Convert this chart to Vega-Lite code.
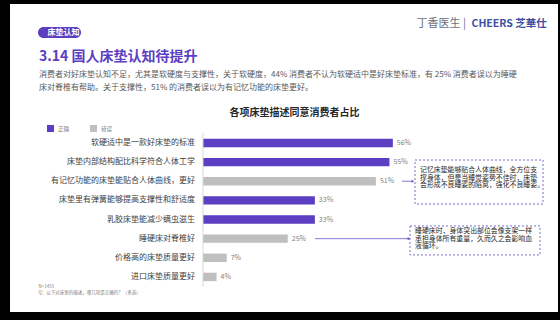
{
  "$schema": "https://vega.github.io/schema/vega-lite/v6.json",
  "width": 560,
  "height": 320,
  "autosize": {"type": "fit", "contains": "padding"},
  "padding": {"left": 10, "right": 2, "top": 4, "bottom": 8},
  "background": "black",
  "config": {
    "font": "Noto Sans CJK SC",
    "view": {"fill": "white", "stroke": null},
    "axis": {"domain": false, "ticks": false, "labels": false, "grid": false, "titlePadding": 0}
  },
  "title": {
    "text": "3.14 国人床垫认知待提升",
    "subtitle": [
      "消费者对好床垫认知不足，尤其是软硬度与支撑性，关于软硬度，44% 消费者不认为软硬适中是好床垫标准，有 25% 消费者误以为睡硬",
      "床对脊椎有帮助。关于支撑性，51% 的消费者误以为有记忆功能的床垫更好。"
    ],
    "anchor": "start",
    "frame": "group",
    "orient": "top",
    "offset": -88,
    "dx": 29,
    "baseline": "top",
    "fontSize": 14,
    "fontWeight": "bold",
    "color": "#5B3EC2",
    "subtitleFontSize": 8,
    "subtitleColor": "#595959",
    "subtitleLineHeight": 13.3,
    "subtitlePadding": 7,
    "subtitleFontWeight": "normal"
  },
  "datasets": {
    "bars": [
      {"category": "软硬适中是一款好床垫的标准", "value": 0.56, "kind": "正确"},
      {"category": "床垫内部结构配比科学符合人体工学", "value": 0.55, "kind": "正确"},
      {"category": "有记忆功能的床垫能贴合人体曲线，更好", "value": 0.51, "kind": "错误"},
      {"category": "床垫里有弹簧能够提高支撑性和舒适度", "value": 0.33, "kind": "正确"},
      {"category": "乳胶床垫能减少螨虫滋生", "value": 0.33, "kind": "正确"},
      {"category": "睡硬床对脊椎好", "value": 0.25, "kind": "错误"},
      {"category": "价格高的床垫质量更好", "value": 0.07, "kind": "错误"},
      {"category": "进口床垫质量更好", "value": 0.04, "kind": "错误"}
    ],
    "notes": [
      {"id": 1, "category": "有记忆功能的床垫能贴合人体曲线，更好", "note": "记忆床垫能够贴合人体曲线，全方位支\n撑身体，但是当睡觉姿势不佳时，床垫\n会形成不良睡姿的陷窝，强化不良睡姿。"},
      {"id": 2, "category": "睡硬床对脊椎好", "note": "睡硬床时，身体突出部位会像支架一样\n承担身体所有重量，久而久之会影响血\n液循环。"}
    ]
  },
  "resolve": {"axis": {"x": "independent", "y": "independent"}},
  "layer": [
    {
      "data": {"name": "bars"},
      "mark": {"type": "bar"},
      "encoding": {
        "y": {
          "field": "category", "type": "nominal",
          "scale": {
            "domain": ["软硬适中是一款好床垫的标准", "床垫内部结构配比科学符合人体工学", "有记忆功能的床垫能贴合人体曲线，更好", "床垫里有弹簧能够提高支撑性和舒适度", "乳胶床垫能减少螨虫滋生", "睡硬床对脊椎好", "价格高的床垫质量更好", "进口床垫质量更好"],
            "range": [129.4, 282.5],
            "paddingInner": 0.56, "paddingOuter": 0.28
          },
          "axis": {"orient": "left", "title": "丁香医生 |", "titleAngle": 0, "titleX": 406, "titleY": 19, "titleAlign": "left", "titleBaseline": "middle", "titleFontSize": 11, "titleFontWeight": "normal", "titleColor": "#6E6E80"}
        },
        "x": {
          "field": "value", "type": "quantitative", "stack": null,
          "scale": {"domain": [-0.5693, 1.0472], "nice": false},
          "axis": {"orient": "top", "title": "各项床垫描述同意消费者占比", "titleX": 284, "titleY": 108, "titleAlign": "center", "titleBaseline": "middle", "titleFontSize": 10, "titleFontWeight": "bold", "titleColor": "#262626"}
        },
        "color": {
          "field": "kind", "type": "nominal",
          "scale": {"domain": ["正确", "错误"], "range": ["#5B3EC2", "#7F7F7F"]},
          "legend": {
            "orient": "none", "legendX": 37, "legendY": 121, "direction": "horizontal", "title": null,
            "symbolType": "square", "symbolSize": 49, "symbolStrokeWidth": 0, "symbolOpacity": 1,
            "labelFontSize": 5.5, "labelColor": "#7F7F7F", "labelOffset": 4, "columnPadding": 20, "padding": 0
          }
        },
        "opacity": {
          "field": "kind", "type": "nominal",
          "scale": {"domain": ["正确", "错误"], "range": [1, 0.5]},
          "legend": null
        }
      }
    },
    {
      "data": {"name": "bars"},
      "mark": {"type": "text", "align": "right", "baseline": "middle", "dx": -8, "fontSize": 8, "color": "#404040"},
      "encoding": {
        "y": {"field": "category", "type": "nominal", "axis": null},
        "x": {"datum": 0, "type": "quantitative", "axis": null},
        "text": {"field": "category"}
      }
    },
    {
      "data": {"name": "bars"},
      "mark": {"type": "text", "align": "left", "baseline": "middle", "dx": 4, "fontSize": 7, "color": "#7F7F7F"},
      "encoding": {
        "y": {"field": "category", "type": "nominal",
          "axis": {"orient": "right", "title": "CHEERS 芝華仕", "titleAngle": 0, "titleX": -87, "titleY": 19, "titleAlign": "left", "titleBaseline": "middle", "titleFontSize": 10.5, "titleFontWeight": "bold", "titleColor": "#3A4FA0"}},
        "x": {"field": "value", "type": "quantitative",
          "axis": {"orient": "bottom", "title": ["N=1455", "Q：以下对床垫的描述，哪几项是正确的？（多选）"], "titleX": 28, "titleY": -28.5, "titleAlign": "left", "titleAnchor": "start", "titleBaseline": "top", "titleFontSize": 4.5, "titleLineHeight": 6, "titleFontWeight": "normal", "titleColor": "#808080"}},
        "text": {"field": "value", "format": ".0%"}
      }
    },
    {
      "data": {"values": [{}]},
      "mark": {"type": "rule", "strokeWidth": 1},
      "encoding": {
        "x": {"datum": 0, "type": "quantitative", "axis": null},
        "y": {"datum": "软硬适中是一款好床垫的标准", "type": "nominal", "bandPosition": -0.69, "axis": null},
        "y2": {"datum": "进口床垫质量更好", "bandPosition": 1.69},
        "stroke": {
          "datum": "床垫认知", "type": "nominal",
          "scale": {"range": ["#D9D9D9"]},
          "legend": {
            "orient": "none", "legendX": 28, "legendY": 23, "title": null,
            "symbolSize": 0, "symbolOpacity": 0, "symbolStrokeWidth": 0, "labelOffset": 0,
            "labelFontSize": 8, "labelFontWeight": "bold", "labelColor": "white",
            "labelExpr": "'\u3000\u3000' + datum.label + '\u3000\u3000'",
            "fillColor": "#5B3EC2", "cornerRadius": 5.5, "padding": 1.5
          }
        }
      }
    },
    {
      "data": {"name": "notes"},
      "transform": [{"filter": "datum.id == 1"}],
      "layer": [
        {
          "mark": {"type": "rect", "fill": "white", "stroke": "#7C6BC9", "strokeDash": [2, 2], "strokeWidth": 1},
          "encoding": {
            "x": {"datum": 0.6254, "type": "quantitative", "axis": null},
            "x2": {"datum": 1.003},
            "y": {"datum": "床垫内部结构配比科学符合人体工学", "type": "nominal", "bandPosition": 0.25, "axis": null},
            "y2": {"datum": "床垫里有弹簧能够提高支撑性和舒适度", "bandPosition": 0.93}
          }
        },
        {
          "mark": {"type": "rule", "color": "#6A55C8", "strokeWidth": 0.8},
          "encoding": {
            "x": {"datum": 0.587, "type": "quantitative", "axis": null},
            "x2": {"datum": 0.619},
            "y": {"field": "category", "type": "nominal", "axis": null}
          }
        },
        {
          "mark": {"type": "point", "shape": "triangle-right", "filled": true, "size": 10, "color": "#6A55C8", "opacity": 1},
          "encoding": {
            "x": {"datum": 0.619, "type": "quantitative", "axis": null},
            "y": {"field": "category", "type": "nominal", "axis": null}
          }
        },
        {
          "mark": {"type": "text", "align": "left", "baseline": "top", "dy": -14, "fontSize": 6.9, "lineHeight": 7.5, "lineBreak": "\n", "color": "#262626"},
          "encoding": {
            "x": {"datum": 0.6401, "type": "quantitative", "axis": null},
            "y": {"field": "category", "type": "nominal", "axis": null},
            "text": {"field": "note"}
          }
        }
      ]
    },
    {
      "data": {"name": "notes"},
      "transform": [{"filter": "datum.id == 2"}],
      "layer": [
        {
          "mark": {"type": "rect", "fill": "white", "stroke": "#7C6BC9", "strokeDash": [2, 2], "strokeWidth": 1},
          "encoding": {
            "x": {"datum": 0.6106, "type": "quantitative", "axis": null},
            "x2": {"datum": 0.9941},
            "y": {"datum": "乳胶床垫能减少螨虫滋生", "type": "nominal", "bandPosition": 1.265, "axis": null},
            "y2": {"datum": "价格高的床垫质量更好", "bandPosition": 0.16}
          }
        },
        {
          "mark": {"type": "rule", "color": "#6A55C8", "strokeWidth": 0.8},
          "encoding": {
            "x": {"datum": 0.3304, "type": "quantitative", "axis": null},
            "x2": {"datum": 0.6077},
            "y": {"field": "category", "type": "nominal", "axis": null}
          }
        },
        {
          "mark": {"type": "point", "shape": "triangle-right", "filled": true, "size": 10, "color": "#6A55C8", "opacity": 1},
          "encoding": {
            "x": {"datum": 0.6077, "type": "quantitative", "axis": null},
            "y": {"field": "category", "type": "nominal", "axis": null}
          }
        },
        {
          "mark": {"type": "text", "align": "left", "baseline": "top", "dy": -10.5, "fontSize": 6.9, "lineHeight": 7.5, "lineBreak": "\n", "color": "#262626"},
          "encoding": {
            "x": {"datum": 0.6254, "type": "quantitative", "axis": null},
            "y": {"field": "category", "type": "nominal", "axis": null},
            "text": {"field": "note"}
          }
        }
      ]
    }
  ]
}
